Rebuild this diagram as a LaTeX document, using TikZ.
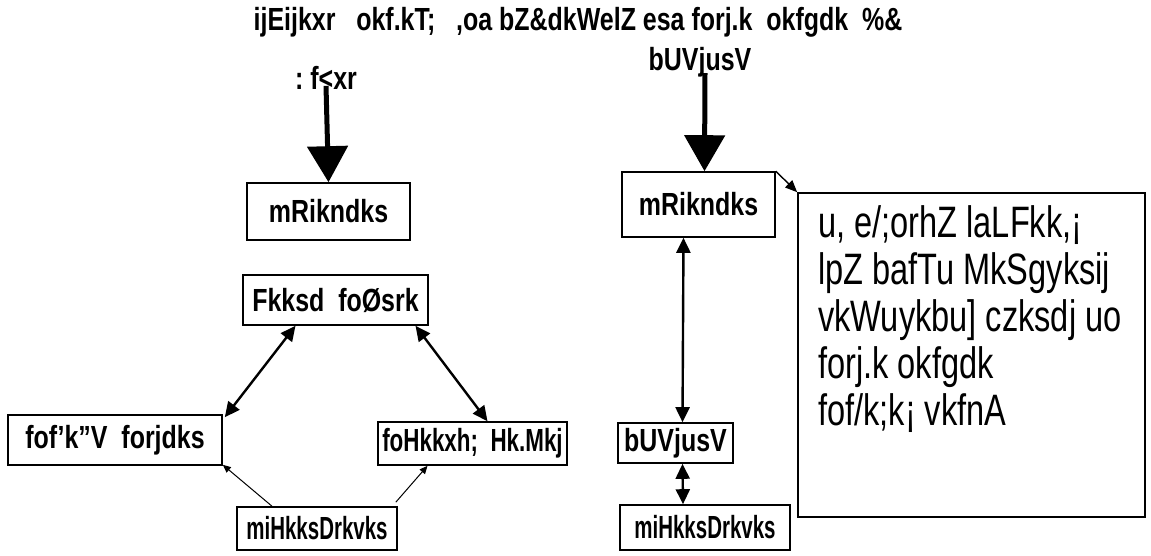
\documentclass[tikz,border=0pt]{standalone}
\usepackage{fontspec}
\setmainfont[FakeStretch=0.78]{Liberation Sans}
\newfontfamily\narrowfont[FakeStretch=0.64]{Liberation Sans}
\newfontfamily\midfont[FakeStretch=0.7]{Liberation Sans}
\newfontfamily\bigtextfont[FakeStretch=0.74]{Liberation Sans}
\usetikzlibrary{arrows.meta,calc}
\begin{document}
\begin{tikzpicture}[x=1pt,y=-1pt,
  box/.style={draw,line width=1.6pt,inner sep=0pt,font=\bfseries\fontsize{32}{36}\selectfont},
  lbl/.style={inner sep=0pt,font=\bfseries\fontsize{32}{36}\selectfont},
  bigarrow/.style={line width=5pt,-{Triangle[width=40pt,length=36pt]}},
  dbl/.style={line width=2.4pt,{Triangle[width=14pt,length=15pt]}-{Triangle[width=14pt,length=15pt]}},
  thin/.style={line width=1pt,-{Triangle[width=7pt,length=8pt]}}]
\useasboundingbox (0,0) rectangle (1151,555);
\node[lbl] (title) at (578,22) {ijEijkxr\ \ \ okf.kT;\ \ \ ,oa bZ\&dkWelZ\ esa forj.k\ \ okfgdk\ \ \%\&};
\node[lbl] (rudh) at (326,78) {:\ f<xr};
\node[lbl] (inet) at (700,62) {bUVjusV};
\node[box,minimum width=163pt,minimum height=57pt] (mL) at (328.5,211.5) {mRikndks};
\node[box,minimum width=153pt,minimum height=65pt] (mR) at (698.5,204.5) {mRikndks};
\node[box,minimum width=185pt,minimum height=50pt] (thok) at (335.5,300) {Fkksd\ \ foØsrk};
\node[box,minimum width=214pt,minimum height=50pt] (vish) at (115,440) {fof'k"V\ \ forjdks};
\node[box,minimum width=189pt,minimum height=43pt] (vibh) at (472.5,443.5) {\midfont\bfseries foHkkxh;\ \ Hk.Mkj};
\node[box,minimum width=160pt,minimum height=43pt] (upL) at (317,528.5) {\narrowfont\bfseries miHkksDrkvks};
\node[box,minimum width=115pt,minimum height=40pt] (inbox) at (675.5,443) {bUVjusV};
\node[box,minimum width=170pt,minimum height=45pt] (upR) at (705,527.5) {\narrowfont\bfseries miHkksDrkvks};
\node[draw,line width=1.6pt,minimum width=347pt,minimum height=324pt,inner sep=0pt] (big) at (971.5,355) {};
\node[anchor=north west,inner sep=0pt,align=left,font=\bigtextfont\fontsize{44}{47}\selectfont] (bigtxt) at (818,205)
 {u, e/;orhZ laLFkk,¡\\lpZ bafTu MkSgyksij\\vkWuykbu] czksdj uo\\forj.k okfgdk\\fof/k;k¡ vkfnA};
\draw[bigarrow] ([yshift=4pt]rudh.south) -- (mL.north);
\draw[bigarrow] ([yshift=4pt,xshift=5pt]inet.south) -- ([xshift=6pt]mR.north);
\draw[dbl] ([xshift=-40pt]thok.south) -- ([xshift=2pt,yshift=-3pt]vish.north east);
\draw[dbl] ([xshift=80pt]thok.south) -- ([xshift=15pt]vibh.north);
\draw[thin] ([xshift=-45pt]upL.north) -- ([yshift=1pt]vish.south east);
\draw[thin] ([xshift=-2pt,yshift=4pt]upL.north east) -- ([xshift=-45pt]vibh.south);
\draw[dbl] ([xshift=-15pt]mR.south) -- ([xshift=7pt]inbox.north);
\draw[dbl] ([xshift=7pt]inbox.south) -- ([xshift=-22pt]upR.north);
\draw[line width=1.4pt,-{Triangle[width=10pt,length=12pt]}] (mR.north east) -- (big.north west);
\end{tikzpicture}
\end{document}
